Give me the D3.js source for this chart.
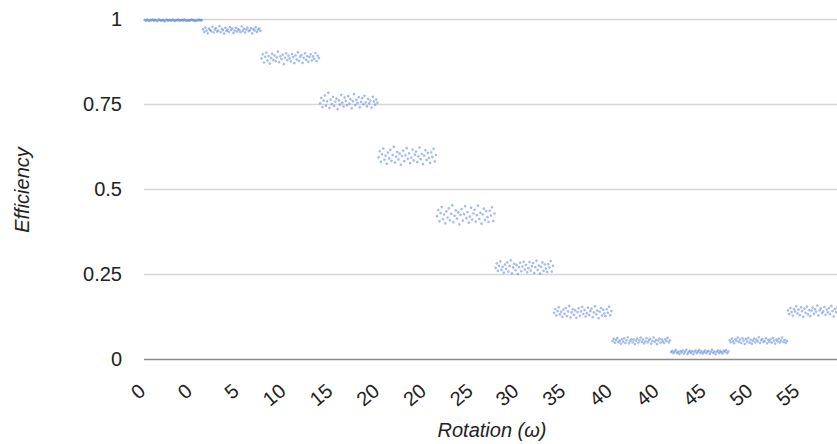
<!DOCTYPE html>
<html>
<head>
<meta charset="utf-8">
<script src="https://cdn.jsdelivr.net/npm/d3@7"></script>
<style>
  html, body { margin: 0; padding: 0; background: #fff; }
  svg { display: block; font-family: "Liberation Sans", Arial, sans-serif; }
</style>
</head>
<body>
<svg id="chart" width="837" height="444"></svg>
<script>
// Rotation (ω) of each group of samples
const rotations = [0, 5, 10, 15, 20, 25, 30, 35, 40, 45, 50, 55];

// Efficiency samples for each rotation
const eff00 = [0.997,0.995,0.998,0.996,0.994,0.997,0.996,0.998,0.995,0.997,0.996,0.994,0.998,0.997,0.995,0.996,0.997,0.993,0.996,0.998,0.995,0.997,0.996,0.995,0.998,0.996,0.994,0.997,0.996,0.998,0.995,0.996,0.997,0.995,0.998,0.996,0.994,0.997,0.995,0.996,0.998,0.997,0.995,0.996,0.994,0.997,0.996,0.998,0.995,0.997];
const eff05 = [0.970,0.962,0.975,0.966,0.958,0.972,0.968,0.964,0.977,0.960,0.969,0.973,0.963,0.966,0.979,0.961,0.971,0.967,0.957,0.974,0.965,0.969,0.962,0.976,0.968,0.972,0.959,0.966,0.974,0.963,0.970,0.967,0.961,0.978,0.965,0.971,0.960,0.969,0.975,0.964,0.967,0.973,0.958,0.970,0.966,0.976,0.962,0.969,0.972,0.965];
const eff10 = [0.884,0.896,0.872,0.889,0.901,0.878,0.891,0.869,0.885,0.898,0.880,0.893,0.876,0.887,0.904,0.873,0.890,0.882,0.895,0.867,0.886,0.899,0.879,0.892,0.884,0.875,0.897,0.888,0.870,0.893,0.881,0.902,0.877,0.889,0.894,0.871,0.886,0.899,0.880,0.891,0.874,0.888,0.896,0.878,0.890,0.883,0.900,0.876,0.892,0.885];
const eff15 = [0.752,0.768,0.741,0.760,0.775,0.745,0.758,0.783,0.738,0.763,0.750,0.771,0.744,0.757,0.766,0.735,0.761,0.748,0.777,0.754,0.742,0.769,0.759,0.746,0.773,0.751,0.764,0.737,0.758,0.779,0.747,0.762,0.753,0.770,0.740,0.756,0.767,0.749,0.774,0.755,0.743,0.765,0.752,0.760,0.739,0.771,0.757,0.748,0.763,0.754];
const eff20 = [0.593,0.611,0.580,0.602,0.619,0.586,0.598,0.574,0.607,0.590,0.615,0.583,0.600,0.624,0.578,0.595,0.609,0.587,0.604,0.571,0.597,0.613,0.582,0.599,0.620,0.589,0.605,0.576,0.592,0.616,0.584,0.601,0.610,0.579,0.596,0.622,0.588,0.603,0.573,0.598,0.614,0.585,0.606,0.591,0.577,0.608,0.594,0.618,0.581,0.600];
const eff25 = [0.420,0.438,0.405,0.429,0.447,0.411,0.425,0.399,0.434,0.416,0.443,0.408,0.427,0.452,0.402,0.421,0.437,0.413,0.431,0.396,0.424,0.441,0.407,0.426,0.449,0.414,0.432,0.401,0.419,0.445,0.410,0.428,0.439,0.404,0.423,0.451,0.412,0.430,0.398,0.425,0.442,0.409,0.435,0.417,0.403,0.436,0.422,0.446,0.406,0.428];
const eff30 = [0.268,0.281,0.259,0.274,0.287,0.262,0.271,0.254,0.278,0.265,0.284,0.257,0.273,0.290,0.252,0.269,0.280,0.261,0.276,0.250,0.270,0.283,0.258,0.272,0.286,0.263,0.277,0.255,0.267,0.285,0.260,0.273,0.282,0.253,0.270,0.289,0.262,0.275,0.251,0.271,0.284,0.259,0.278,0.266,0.256,0.279,0.269,0.288,0.257,0.274];
const eff35 = [0.136,0.147,0.128,0.141,0.152,0.131,0.139,0.124,0.145,0.133,0.150,0.126,0.140,0.156,0.122,0.137,0.146,0.130,0.143,0.121,0.138,0.149,0.127,0.140,0.153,0.132,0.144,0.125,0.135,0.151,0.129,0.141,0.148,0.123,0.137,0.155,0.131,0.142,0.120,0.139,0.150,0.128,0.145,0.134,0.126,0.146,0.136,0.154,0.129,0.141];
const eff40 = [0.053,0.059,0.048,0.056,0.062,0.050,0.054,0.045,0.058,0.051,0.061,0.047,0.055,0.064,0.046,0.053,0.058,0.049,0.057,0.044,0.054,0.060,0.048,0.055,0.063,0.050,0.057,0.046,0.052,0.061,0.049,0.055,0.059,0.045,0.053,0.063,0.050,0.056,0.044,0.054,0.060,0.048,0.058,0.052,0.047,0.058,0.053,0.062,0.049,0.055];
const eff45 = [0.020,0.024,0.017,0.022,0.026,0.018,0.021,0.015,0.023,0.019,0.025,0.016,0.022,0.027,0.015,0.020,0.024,0.018,0.023,0.014,0.021,0.025,0.017,0.022,0.026,0.018,0.023,0.016,0.020,0.025,0.017,0.022,0.024,0.015,0.021,0.027,0.018,0.022,0.014,0.021,0.025,0.017,0.023,0.020,0.016,0.024,0.021,0.026,0.017,0.022];
const eff50 = [0.055,0.049,0.060,0.052,0.046,0.058,0.053,0.063,0.050,0.057,0.047,0.061,0.054,0.044,0.059,0.051,0.062,0.048,0.056,0.045,0.054,0.060,0.049,0.057,0.052,0.064,0.047,0.055,0.059,0.050,0.053,0.061,0.046,0.056,0.051,0.058,0.048,0.062,0.054,0.045,0.057,0.052,0.060,0.049,0.055,0.063,0.050,0.056,0.047,0.053];
const eff55 = [0.143,0.132,0.150,0.138,0.127,0.147,0.140,0.155,0.134,0.145,0.129,0.152,0.141,0.124,0.148,0.136,0.154,0.131,0.144,0.126,0.142,0.151,0.133,0.146,0.139,0.157,0.128,0.143,0.149,0.135,0.140,0.153,0.130,0.145,0.137,0.150,0.132,0.156,0.141,0.125,0.147,0.138,0.152,0.134,0.143,0.148,0.129,0.144,0.136,0.146];

const efficiencyGroups = [eff00, eff05, eff10, eff15, eff20, eff25, eff30, eff35, eff40, eff45, eff50, eff55];

// Rows (sample index) at which the discrete axis shows a label
const labelRows = [1, 41, 81, 121, 161, 201, 241, 281, 320, 360, 400, 440, 480, 520, 560];

// Y ticks
const yTicks = [0, 0.25, 0.5, 0.75, 1];
const yTickLabels = ["0", "0.25", "0.5", "0.75", "1"];

// Build the row table: one row per sample, labeled with its rotation
const rows = [];
efficiencyGroups.forEach((g, gi) => {
  g.forEach(v => rows.push({ rotation: rotations[gi], efficiency: v }));
});
rows.forEach((r, i) => r.index = i);

const svg = d3.select("#chart");
const W = 837, H = 444;
const mLeft = 144, mTop = 19, mBottom = 359;
const groupWidth = 58.5;
const mRight = mLeft + groupWidth * efficiencyGroups.length;

const x = d3.scaleLinear().domain([0, rows.length]).range([mLeft, mRight]);
const y = d3.scaleLinear().domain([0, 1]).range([mBottom, mTop]);

// gridlines
svg.append("g").selectAll("line")
  .data(yTicks.filter(t => t !== 0))
  .join("line")
  .attr("x1", mLeft).attr("x2", W)
  .attr("y1", d => Math.round(y(d)) + 0.5).attr("y2", d => Math.round(y(d)) + 0.5)
  .attr("stroke", "#d6d6d6").attr("stroke-width", 1.5);

// y tick labels
svg.append("g").selectAll("text")
  .data(yTicks)
  .join("text")
  .attr("x", 122)
  .attr("y", d => y(d))
  .attr("dy", "0.36em")
  .attr("text-anchor", "end")
  .attr("font-size", 20)
  .attr("fill", "#222")
  .text((d, i) => yTickLabels[i]);

// points
svg.append("g").selectAll("circle")
  .data(rows)
  .join("circle")
  .attr("cx", d => x(d.index + 0.5))
  .attr("cy", d => y(d.efficiency))
  .attr("r", 1.1)
  .attr("fill", "#5a88e6")
  .attr("fill-opacity", 0.5)
  .attr("stroke", "#3366cc")
  .attr("stroke-opacity", 0.3)
  .attr("stroke-width", 0.6);

// baseline
svg.append("line")
  .attr("x1", mLeft).attr("x2", W)
  .attr("y1", y(0) + 0.5).attr("y2", y(0) + 0.5)
  .attr("stroke", "#8a8a8a").attr("stroke-width", 1.5);

// x labels (slanted)
svg.append("g").selectAll("text")
  .data(labelRows)
  .join("text")
  .attr("transform", d => `translate(${x(d + 0.5) + 1},${393}) rotate(-40)`)
  .attr("text-anchor", "end")
  .attr("font-size", 20)
  .attr("fill", "#222")
  .text(d => rows[d].rotation);

// axis titles
svg.append("text")
  .attr("x", 492).attr("y", 437)
  .attr("text-anchor", "middle")
  .attr("font-size", 20)
  .attr("font-style", "italic")
  .attr("fill", "#222")
  .text("Rotation (ω)");

svg.append("text")
  .attr("transform", `translate(29,190) rotate(-90)`)
  .attr("text-anchor", "middle")
  .attr("font-size", 20)
  .attr("font-style", "italic")
  .attr("fill", "#222")
  .text("Efficiency");
</script>
</body>
</html>
